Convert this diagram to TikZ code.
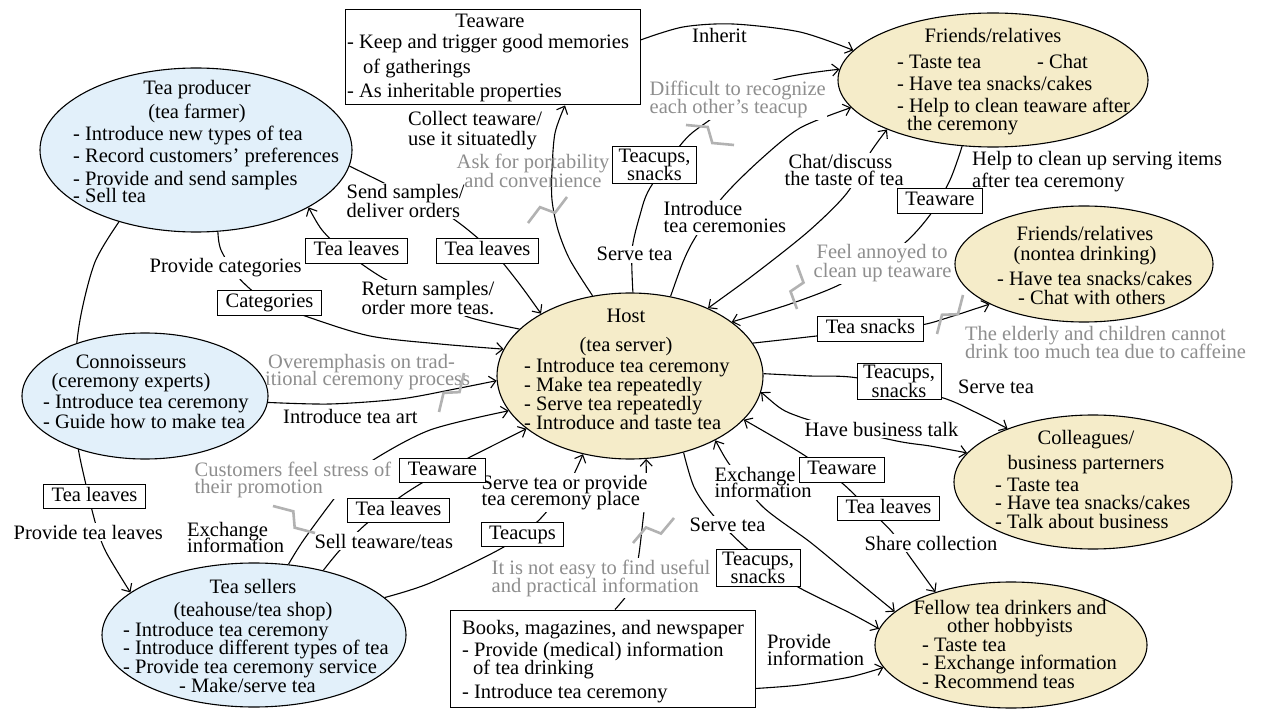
\documentclass[tikz,border=0pt]{standalone}
\usepackage{fontspec}
\setmainfont{Liberation Serif}
\usetikzlibrary{arrows.meta,calc,shapes.geometric}
\pgfdeclarelayer{background}
\pgfsetlayers{background,main}
\definecolor{skyfill}{HTML}{E2F0FA}
\definecolor{sandfill}{HTML}{F5ECC9}
\definecolor{notegray}{HTML}{8E8E8E}
\definecolor{boltgray}{HTML}{B2B2B2}
% stacked lines with a fixed baseline distance; first baseline = box baseline
\newcommand\llines[1]{\vtop{\baselineskip=18.7pt\lineskiplimit=-100pt\lineskip=0pt\let\\\cr\halign{##\hfil\cr#1\cr}}}
\newcommand\clines[1]{\vtop{\baselineskip=18.7pt\lineskiplimit=-100pt\lineskip=0pt\let\\\cr\halign{\hfil##\hfil\cr#1\cr}}}
\newcommand\gap[1]{\noalign{\vskip#1}}
% gray "broken link" mark laid across a connector
\newcommand\warnbolt[2]{\draw[boltline] (#1) -- ($(#1)!0.40!(#2)!6.5pt!90:(#2)$) -- ($(#1)!0.60!(#2)!6.5pt!-90:(#2)$) -- (#2);}
\begin{document}
\begin{tikzpicture}[x=1pt, y=-1pt,
  font=\fontsize{20.5}{18.7}\selectfont,
  >={Straight Barb[length=6.5pt,width=12pt]},
  wire/.style={line width=1.1pt},
  blob/.style={ellipse, draw, line width=1.1pt, inner sep=0pt},
  txt/.style={anchor=base west, inner sep=0pt},
  ctxt/.style={anchor=base, inner sep=0pt},
  cut/.style={fill=white, inner sep=1.5pt},
  note/.style={text=notegray},
  tag/.style={draw, fill=white, line width=1pt, inner xsep=8pt, inner ysep=3.5pt, text height=13.5pt, text depth=4pt},
  tagtwo/.style={draw, fill=white, line width=1pt, inner xsep=6pt, inner ysep=2pt, align=center},
  boltline/.style={draw=boltgray, line width=2.6pt, line join=miter},
]
\useasboundingbox (0,0) rectangle (1270,711);

% ---------- actors ----------
\node[blob, fill=skyfill, minimum width=312pt, minimum height=164pt] (prod) at (196,150) {};
\node[ctxt] (prodH) at (197,95) {\clines{Tea producer\\\gap{5.3pt}(tea farmer)}};
\node[txt] (prodL) at (73,141) {\llines{- Introduce new types of tea\\\gap{3.3pt}- Record customers’ preferences\\\gap{4.3pt}- Provide and send samples\\\gap{-1.7pt}- Sell tea}};

\node[blob, fill=skyfill, minimum width=246pt, minimum height=126pt] (conn) at (145,396) {};
\node[ctxt] (connH) at (131,369) {\clines{Connoisseurs\\(ceremony experts)}};
\node[txt] (connL) at (43,409) {\llines{- Introduce tea ceremony\\\gap{1.3pt}- Guide how to make tea}};

\node[blob, fill=sandfill, minimum width=266pt, minimum height=166pt] (host) at (630,376) {};
\node[ctxt] (hostH) at (626,323) {\clines{Host\\\gap{10.3pt}(tea server)}};
\node[txt] (hostL) at (524,373) {\llines{- Introduce tea ceremony\\- Make tea repeatedly\\- Serve tea repeatedly\\- Introduce and taste tea}};

\node[blob, fill=skyfill, minimum width=304pt, minimum height=144pt] (sell) at (254,635) {};
\node[ctxt] (sellH) at (253,593) {\clines{Tea sellers\\\gap{4.3pt}(teahouse/tea shop)}};
\node[txt] (sellL) at (123,636) {\llines{- Introduce tea ceremony\\- Introduce different types of tea\\- Provide tea ceremony service\\\hspace*{56pt}- Make/serve tea}};

\node[blob, fill=sandfill, minimum width=310pt, minimum height=134pt] (fr) at (993,80) {};
\node[ctxt] (frH) at (993,43) {Friends/relatives};
\node[txt] (frL) at (897,69) {\llines{\makebox[140pt][l]{- Taste tea}- Chat\\\gap{3.3pt}- Have tea snacks/cakes\\\gap{3.3pt}- Help to clean teaware after\\\gap{-0.7pt}\hspace*{10pt}the ceremony}};

\node[blob, fill=sandfill, minimum width=258pt, minimum height=116pt] (nt) at (1084,264) {};
\node[ctxt] (ntH) at (1085,241) {\clines{Friends/relatives\\\gap{1.3pt}(nontea drinking)}};
\node[txt] (ntL) at (997,286) {\llines{- Have tea snacks/cakes\\\hspace*{21pt}- Chat with others}};

\node[blob, fill=sandfill, minimum width=278pt, minimum height=134pt] (col) at (1093,482) {};
\node[ctxt] (colH) at (1086,444) {\clines{Colleagues/\\\gap{6.3pt}business parterners}};
\node[txt] (colL) at (995,491) {\llines{- Taste tea\\- Have tea snacks/cakes\\- Talk about business}};

\node[blob, fill=sandfill, minimum width=272pt, minimum height=126pt] (fel) at (1011,645) {};
\node[ctxt] (felH) at (1010,614) {\clines{Fellow tea drinkers and\\other hobbyists}};
\node[txt] (felL) at (922,651) {\llines{- Taste tea\\- Exchange information\\- Recommend teas}};

\node[draw, line width=1pt, fill=white, minimum width=295pt, minimum height=95pt, inner sep=0pt] (tw) at (492.5,57.5) {};
\node[ctxt] (twH) at (490,28) {Teaware};
\node[txt] (twL) at (347,49) {\llines{- Keep and trigger good memories\\\gap{6.3pt}\hspace*{16pt}of gatherings\\\gap{5.3pt}- As inheritable properties}};

\node[draw, line width=1pt, fill=white, minimum width=305pt, minimum height=97pt, inner sep=0pt] (books) at (602.5,658.5) {};
\node[txt] (booksL) at (462,634) {\llines{Books, magazines, and newspaper\\\gap{3.3pt}- Provide (medical) information\\\gap{-0.7pt}\hspace*{11pt}of tea drinking\\\gap{5.3pt}- Introduce tea ceremony}};

% ---------- activity labels ----------
\node[txt, cut] (lSend) at (345,199) {\llines{Send samples/\\deliver orders}};
\node[txt, cut] (lRet) at (360,296) {\llines{Return samples/\\order more teas.}};
\node[txt, cut] (lCat) at (148,273) {Provide categories};
\node[txt, cut] (lProv) at (12,539) {Provide tea leaves};
\node[txt] (lCol) at (408,126) {\llines{Collect teaware/\\\gap{1.3pt}use it situatedly}};
\node[txt] (lInh) at (692,43) {Inherit};
\node[txt] (lArt) at (283,424) {Introduce tea art};
\node[txt] (lEx1) at (187,536) {\llines{Exchange\\\gap{-1.7pt}information}};
\node[txt, cut] (lSell) at (313,548) {Sell teaware/teas};
\node[txt, cut] (lSP) at (480,489) {\llines{Serve tea or provide\\\gap{-1.7pt}tea ceremony place}};
\node[txt, cut] (lSv1) at (595,261) {Serve tea};
\node[txt, cut] (lIC) at (662,216) {\llines{Introduce\\\gap{-1.7pt}tea ceremonies}};
\node[txt, cut] (lChat) at (783,169) {\llines{\hspace*{4pt}Chat/discuss\\\gap{-1.7pt}the taste of tea}};
\node[txt] (lHelp) at (972,166) {\llines{Help to clean up serving items\\\gap{3.3pt}after tea ceremony}};
\node[txt, cut] (lBiz) at (803,436) {Have business talk};
\node[txt] (lSv2) at (958,394) {Serve tea};
\node[txt, cut] (lEx2) at (713,481) {\llines{Exchange\\\gap{-1.7pt}information}};
\node[txt, cut] (lSv3) at (688,531) {Serve tea};
\node[txt, cut] (lShare) at (863,550) {Share collection};
\node[txt] (lPI) at (767,648) {\llines{Provide\\\gap{-1.7pt}information}};

% ---------- problems (gray) ----------
\node[txt, note, cut] (nDiff) at (648,96) {\llines{Difficult to recognize\\\gap{-0.7pt}each other’s teacup}};
\node[ctxt, note] (nAsk) at (533,169) {\clines{Ask for portability\\\gap{0.3pt}and convenience}};
\node[txt, note] (nOver) at (265,369) {\llines{\hspace*{3pt}Overemphasis on trad-\\\gap{-1.7pt}itional ceremony process}};
\node[txt, note, cut] (nCust) at (193,476) {\llines{Customers feel stress of\\\gap{-1.7pt}their promotion}};
\node[txt, note, cut] (nFeel) at (812,259) {\llines{\hspace*{3pt}Feel annoyed to\\\gap{0.3pt}clean up teaware}};
\node[txt, note] (nOld) at (965,341) {\llines{The elderly and children cannot\\\gap{-0.7pt}drink too much tea due to caffeine}};
\node[txt, note, cut] (nEasy) at (490,574) {\llines{It is not easy to find useful\\\gap{-0.7pt}and practical information}};

% ---------- exchanged items ----------
\node[tag] (tlA) at (487.5,251) {Tea leaves};
\node[tag] (tlB) at (356.5,251) {Tea leaves};
\node[tag] (cat) at (269.5,303) {Categories};
\node[tag] (tlC) at (94.5,496.5) {Tea leaves};
\node[tag] (twS) at (442.5,470.5) {Teaware};
\node[tag] (tlS) at (398.5,510.5) {Tea leaves};
\node[tag] (cups) at (522.5,534.5) {Teacups};
\node[tagtwo] (tsF) at (758,568) {Teacups,\\snacks};
\node[tag] (twF) at (842,470) {Teaware};
\node[tag] (tlF) at (888.5,508.5) {Tea leaves};
\node[tagtwo] (tsC) at (899,381.5) {Teacups,\\snacks};
\node[tag] (snk) at (870.5,329) {Tea snacks};
\node[tag] (twR) at (940,201) {Teaware};
\node[tagtwo] (tsR) at (654.5,165) {Teacups,\\snacks};

% ---------- connectors ----------
\begin{pgfonlayer}{background}
\fill[white] (0,0) rectangle (1270,711);
\draw[wire,->] plot[smooth] coordinates {(prod.-6) (400,191) (452,218) (492,251) (518,282) (host.145)};
\draw[wire,->] plot[smooth] coordinates {(host.157) (468,317) (425,297) (383,278) (344,251) (322,230) (prod.-27)};
\draw[wire,->] plot[smooth] coordinates {(prod.-75) (221,250) (238,277) (265,300) (308,317) (370,336) (440,344) (host.168)};
\draw[wire,->] plot[smooth] coordinates {(prod.-137) (95,262) (80,320) (74,380) (77,440) (86,485) (96,525) (106,552) (sell.161)};
\draw[wire,->] plot[smooth] coordinates {(conn.-3) (330,404) (400,399) (455,389) (host.182)};
\draw[wire,->] plot[smooth] coordinates {(sell.64) (305,538) (345,485) (370,462) (430,430) (host.196)};
\draw[wire,->] plot[smooth] coordinates {(sell.43) (340,550) (365,525) (403,495) (445,470) (host.207)};
\draw[wire,->] plot[smooth] coordinates {(sell.16) (430,583) (502,548) (537,522) (560,495) (572,478) (host.239)};
\draw[wire,->] plot[smooth] coordinates {([xshift=12.5pt]books.north) (630,590) (638,560) (643,520) (646,490) (host.-79)};
\draw[wire,->] plot[smooth] coordinates {(host.-55) (694,487) (713,515) (745,547) (771,567) (798,587) (850,613) (fel.173)};
\draw[wire,<->] plot[smooth] coordinates {(host.-37) (732,468) (763,507) (810,542) (850,575) (fel.164)};
\draw[wire,<->] plot[smooth] coordinates {(host.-21) (807,457) (842,483) (870,510) (892,532) (910,557) (fel.145)};
\draw[wire,->] plot[smooth] coordinates {([yshift=19pt]books.south east) (800,685) (850,677) (fel.190)};
\draw[wire,<->] plot[smooth] coordinates {(host.-7.5) (800,417) (892,440) (930,446) (col.167)};
\draw[wire,->] plot[smooth] coordinates {(host.1) (810,376) (858,378) (940,397) (975,412) (col.148)};
\draw[wire,->] plot[smooth] coordinates {(host.15) (790,339) (870,330) (921,325) (950,317) (nt.203)};
\draw[wire,->] plot[smooth] coordinates {(fr.-115.5) (950,180) (930,215) (900,247) (843,283) (790,304) (host.28)};
\draw[wire,<->] plot[smooth] coordinates {(host.41) (760,270) (810,230) (847,193) (870,153) (fr.-155)};
\draw[wire,->] plot[smooth] coordinates {(host.63) (683,262) (695,238) (722,198) (760,160) (800,128) (fr.-169)};
\draw[wire,->] plot[smooth] coordinates {(host.88) (632,250) (640,215) (650,188) (683,142) (707,122) (768,82) (fr.176)};
\draw[wire,->] plot[smooth] coordinates {([yshift=17.5pt]tw.east) (683,27) (733,24) (800,32) (fr.168)};
\draw[wire,->] plot[smooth] coordinates {(host.115.5) (570,260) (558,230) (552,200) (552,170) (555,133) ([xshift=72.5pt]tw.south)};
\end{pgfonlayer}

% ---------- broken-link marks ----------
\warnbolt{439,412}{464,373}
\warnbolt{273,506}{315,533}
\warnbolt{633,543}{674,518}
\warnbolt{937,334}{963,295}
\warnbolt{797,265}{797,309}
\warnbolt{686,125}{734,145}
\warnbolt{528,223}{567,197}
\end{tikzpicture}
\end{document}
